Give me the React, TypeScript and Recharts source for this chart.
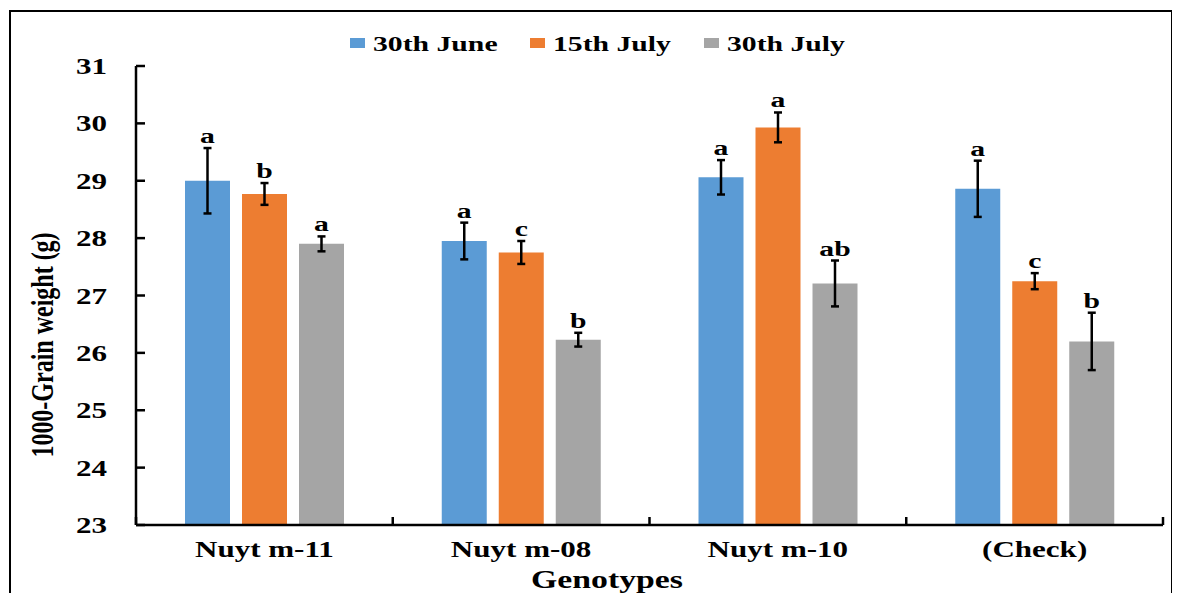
import { BarChart, Bar, XAxis, YAxis, ErrorBar, LabelList, Label } from "recharts";

const genotypes = ["Nuyt m-11", "Nuyt m-08", "Nuyt m-10", "(Check)"];
const seriesNames = ["30th June", "15th July", "30th July"];
const june30 = [29.0, 27.95, 29.06, 28.86];
const july15 = [28.77, 27.75, 29.93, 27.25];
const july30 = [27.9, 26.23, 27.21, 26.2];
const june30Err = [0.57, 0.32, 0.3, 0.49];
const july15Err = [0.19, 0.2, 0.26, 0.14];
const july30Err = [0.13, 0.12, 0.4, 0.5];
const june30Letters = ["a", "a", "a", "a"];
const july15Letters = ["b", "c", "a", "c"];
const july30Letters = ["a", "b", "ab", "b"];
const yTicks = [23, 24, 25, 26, 27, 28, 29, 30, 31];

const colors = ["#5B9BD5", "#ED7D31", "#A5A5A5"];

const W = 1180;
const H = 601;
const PLOT_LEFT = 136;
const PLOT_RIGHT = 1163;
const PLOT_TOP = 66;
const PLOT_BOTTOM = 525;
const BAND = (PLOT_RIGHT - PLOT_LEFT) / genotypes.length;
const PX_PER = (PLOT_BOTTOM - PLOT_TOP) / (yTicks[yTicks.length - 1] - yTicks[0]);
const SX = 1.35; // the original text is stretched sideways

const rows = genotypes.map((g, i) => ({
  name: g,
  june: june30[i],
  julyMid: july15[i],
  julyEnd: july30[i],
  juneErr: june30Err[i],
  julyMidErr: july15Err[i],
  julyEndErr: july30Err[i],
  juneL: june30Letters[i],
  julyMidL: july15Letters[i],
  julyEndL: july30Letters[i],
}));

function ST({ x, y, size, anchor = "middle", rotate = 0, children }: any) {
  return (
    <text
      transform={`translate(${x},${y}) scale(${SX},1) rotate(${rotate})`}
      textAnchor={anchor}
      fontFamily="'Liberation Serif', 'Times New Roman', serif"
      fontWeight="bold"
      fontSize={size}
      fill="#000"
    >
      {children}
    </text>
  );
}

const YTick = (p: any) => (
  <g>
    <line x1={p.x} x2={p.x + 9} y1={p.y} y2={p.y} stroke="#000" strokeWidth={2.5} />
    <ST x={p.x - 29} y={p.y + 8} size={23} anchor="end">
      {p.payload.value}
    </ST>
  </g>
);

const XTick = (p: any) => {
  const half = BAND / 2;
  return (
    <g>
      {p.index === 0 && (
        <line x1={p.x - half} x2={p.x - half} y1={p.y} y2={p.y - 8} stroke="#000" strokeWidth={2.5} />
      )}
      <line x1={p.x + half} x2={p.x + half} y1={p.y} y2={p.y - 8} stroke="#000" strokeWidth={2.5} />
      <ST x={p.x} y={p.y + 32} size={23}>
        {p.payload.value}
      </ST>
    </g>
  );
};

const letterLabel = (errs: number[]) => (p: any) => {
  const i = p.index ?? 0;
  const top = p.y - errs[i] * PX_PER;
  return (
    <ST x={p.x + p.width / 2} y={top - 5} size={22}>
      {p.value}
    </ST>
  );
};

const legendX = [350, 530, 704];

export default function App() {
  return (
    <div style={{ position: "relative", margin: -8, width: W, height: H, overflow: "hidden", background: "#fff" }}>
      <div
        style={{
          position: "absolute",
          left: 9,
          top: 10,
          width: 1164,
          height: 640,
          border: "2.5px solid #000",
          boxSizing: "border-box",
        }}
      />
      <div style={{ position: "absolute", left: 0, top: 0 }}>
        <BarChart
          width={W}
          height={H}
          data={rows}
          margin={{ top: PLOT_TOP, right: W - PLOT_RIGHT, bottom: 16, left: 76 }}
          barCategoryGap={49}
          barGap={12}
        >
          <XAxis
            dataKey="name"
            height={H - 16 - PLOT_BOTTOM}
            axisLine={{ stroke: "#000", strokeWidth: 2.5 }}
            tickLine={false}
            tickSize={0}
            tickMargin={0}
            interval={0}
            tick={XTick}
          />
          <YAxis
            width={PLOT_LEFT - 76}
            domain={[23, 31]}
            ticks={yTicks}
            interval={0}
            allowDataOverflow
            axisLine={{ stroke: "#000", strokeWidth: 2.5 }}
            tickLine={false}
            tickSize={0}
            tickMargin={0}
            tick={YTick}
          >
            <Label
              content={() => (
                <ST x={53} y={345} size={24} rotate={-90}>
                  1000-Grain weight (g)
                </ST>
              )}
            />
          </YAxis>
          <Bar dataKey="june" fill={colors[0]} isAnimationActive={false}>
            <ErrorBar dataKey="juneErr" width={4} stroke="#000" strokeWidth={2.5} direction="y" />
            <LabelList dataKey="juneL" content={letterLabel(june30Err)} />
          </Bar>
          <Bar dataKey="julyMid" fill={colors[1]} isAnimationActive={false}>
            <ErrorBar dataKey="julyMidErr" width={4} stroke="#000" strokeWidth={2.5} direction="y" />
            <LabelList dataKey="julyMidL" content={letterLabel(july15Err)} />
          </Bar>
          <Bar dataKey="julyEnd" fill={colors[2]} isAnimationActive={false}>
            <ErrorBar dataKey="julyEndErr" width={4} stroke="#000" strokeWidth={2.5} direction="y" />
            <LabelList dataKey="julyEndL" content={letterLabel(july30Err)} />
          </Bar>
        </BarChart>
      </div>
      <svg width={W} height={H} style={{ position: "absolute", left: 0, top: 0, overflow: "visible" }}>
        {seriesNames.map((s, i) => (
          <g key={s}>
            <rect x={legendX[i]} y={38} width={15} height={10} fill={colors[i]} />
            <ST x={legendX[i] + 23} y={51} size={22} anchor="start">
              {s}
            </ST>
          </g>
        ))}
        <ST x={607} y={588} size={25}>
          Genotypes
        </ST>
      </svg>
    </div>
  );
}
